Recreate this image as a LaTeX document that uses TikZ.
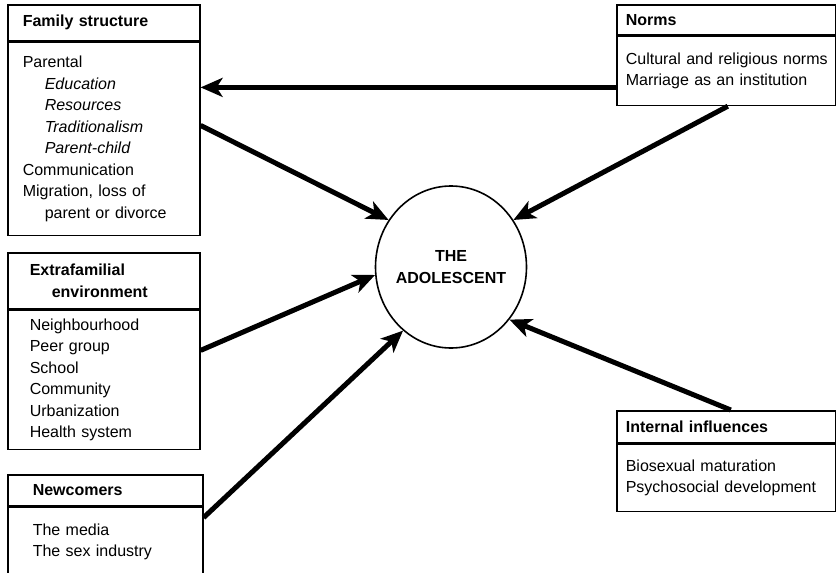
\documentclass[tikz,border=0pt]{standalone}
\usepackage{fontspec}
\setmainfont{Liberation Sans}
\usetikzlibrary{arrows.meta,shapes.geometric}

\newcommand{\sublvl}{\hspace*{22pt}}

\begin{document}
\begin{tikzpicture}[x=1pt,y=-1pt,->,>={Stealth[length=22pt,width=19pt,inset=6pt]},
    line width=5pt,
    panel/.style={draw,line width=1.6pt,anchor=north west,align=left,inner ysep=0pt,
      font=\fontsize{16}{21.5}\selectfont},
    title/.style={panel,font=\fontsize{16}{21.5}\selectfont\bfseries}]
  \path[use as bounding box,clip] (0,0) rectangle (836,573);

  % left column
  \node[title,text width=162pt,inner xsep=15pt,minimum height=36pt] (famhead) at (7,4)
    {Family structure};
  \node[panel,text width=162pt,inner xsep=15pt,minimum height=193pt] (fambody) at (famhead.south west)
    {Parental\\ \sublvl\textit{Education}\\ \sublvl\textit{Resources}\\
     \sublvl\textit{Traditionalism}\\ \sublvl\textit{Parent-child}\\ Communication\\
     Migration, loss of\\ \sublvl parent or divorce};
  \node[title,text width=148pt,inner xsep=22pt,minimum height=56pt] (exthead) at (7,252)
    {Extrafamilial\\ \sublvl environment};
  \node[panel,text width=148pt,inner xsep=22pt,minimum height=139pt] (extbody) at (exthead.south west)
    {Neighbourhood\\ Peer group\\ School\\ Community\\ Urbanization\\ Health system};
  \node[title,text width=145pt,inner xsep=25pt,minimum height=31pt] (newhead) at (7,474)
    {Newcomers};
  \node[panel,text width=145pt,inner xsep=25pt,inner ysep=16pt,text height=11.7pt,text depth=60pt]
    (newbody) at (newhead.south west) {The media\\ The sex industry};

  % right column
  \node[title,text width=201pt,inner xsep=9pt,minimum height=30pt] (normhead) at (616,4)
    {Norms};
  \node[panel,text width=201pt,inner xsep=9pt,minimum height=69pt] (normbody) at (normhead.south west)
    {\mbox{Cultural and religious norms}\\ Marriage as an institution};
  \node[title,text width=201pt,inner xsep=9pt,minimum height=32pt] (inthead) at (616,410)
    {Internal influences};
  \node[panel,text width=201pt,inner xsep=9pt,minimum height=67pt] (intbody) at (inthead.south west)
    {Biosexual maturation\\ Psychosocial development};

  % centre
  \node[ellipse,draw,line width=1.6pt,inner xsep=-10pt,inner ysep=0pt,minimum width=151pt,
    minimum height=162pt,align=center,font=\fontsize{16}{22}\selectfont\bfseries]
    (teen) at (451,267) {THE\\ ADOLESCENT};

  \path ([yshift=-16.5pt]normbody.west) edge ([yshift=-16.5pt]normbody.west -| fambody.east)
    ([yshift=13.5pt]fambody.east) edge (teen.143)
    ([xshift=1.5pt]normbody.south) edge (teen.37)
    ([yshift=29.5pt]extbody.east) edge (teen.186)
    ([yshift=-11pt]newbody.north east) edge (teen.233)
    ([xshift=4.5pt]inthead.north) edge (teen.318);
\end{tikzpicture}
\end{document}
